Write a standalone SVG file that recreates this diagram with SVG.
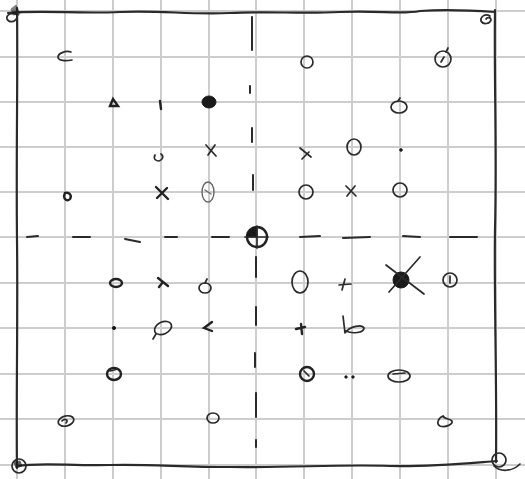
<svg xmlns="http://www.w3.org/2000/svg" width="525" height="479" viewBox="0 0 525 479">
<style>
.grid line{stroke:#cdcdcd;stroke-width:2}
.border{fill:none;stroke:#2a2a2a;stroke-width:2.2;stroke-linecap:round;stroke-linejoin:round}
.dash{stroke:#2a2a2a;stroke-width:2;stroke-linecap:round;fill:none}
.m{fill:none;stroke:#2a2a2a;stroke-width:1.7;stroke-linecap:round;stroke-linejoin:round}
.mt{fill:none;stroke:#222;stroke-width:2.4;stroke-linecap:round}
.lt{fill:none;stroke:#666;stroke-width:1.4;stroke-linecap:round}
.f{fill:#1a1a1a;stroke:#1a1a1a;stroke-width:1}
</style>
<rect width="525" height="479" fill="#ffffff"/>
<g id="grid" class="grid">
<line x1="17" y1="0" x2="17" y2="479"/>
<line x1="65" y1="0" x2="65" y2="479"/>
<line x1="113" y1="0" x2="113" y2="479"/>
<line x1="161" y1="0" x2="161" y2="479"/>
<line x1="209" y1="0" x2="209" y2="479"/>
<line x1="256" y1="0" x2="256" y2="479"/>
<line x1="304" y1="0" x2="304" y2="479"/>
<line x1="352" y1="0" x2="352" y2="479"/>
<line x1="400" y1="0" x2="400" y2="479"/>
<line x1="448" y1="0" x2="448" y2="479"/>
<line x1="496" y1="0" x2="496" y2="479"/>
<line x1="0" y1="11" x2="525" y2="11"/>
<line x1="0" y1="57" x2="525" y2="57"/>
<line x1="0" y1="102" x2="525" y2="102"/>
<line x1="0" y1="147" x2="525" y2="147"/>
<line x1="0" y1="192" x2="525" y2="192"/>
<line x1="0" y1="237" x2="525" y2="237"/>
<line x1="0" y1="283" x2="525" y2="283"/>
<line x1="0" y1="328" x2="525" y2="328"/>
<line x1="0" y1="374" x2="525" y2="374"/>
<line x1="0" y1="419" x2="525" y2="419"/>
<line x1="0" y1="465" x2="525" y2="465"/>
</g>
<g id="border" class="border">
<path d="M8,13 C40,10 80,14 120,12 C160,10 190,15 230,13 C270,11 300,14 340,12 C380,10 400,15 420,11 C450,9 480,11 495,12"/>
<path d="M17,8 C18,80 16,150 17,240 C18,320 16,400 17,468"/>
<path d="M17,466 C40,462 70,466 110,465 C150,464 180,467 230,467 C290,468 340,464 390,466 C430,467 470,463 497,461"/>
<path d="M495,10 C494,80 497,150 495,230 C494,300 497,380 496,462"/>
</g>
<g id="axes" class="dash">
<path d="M27,237 L38,236 M73,237 L90,237 M125,239 L140,242 M165,237 L177,237 M212,237 L229,237 M300,237 L320,236 M343,238 L370,237 M403,236 L420,237 M450,237 L477,237"/>
<path d="M252,17 L252,50 M250,86 L250,93 M252,128 L252,142 M253,175 L253,190 M256,257 L256,277 M256,307 L256,325 M255,353 L255,367 M256,393 L256,417 M256,440 L256,447"/>
</g>
<g id="center">
<circle cx="257" cy="237" r="10" class="mt" stroke-width="2"/>
<path d="M257,237 L247,237 A10,10 0 0 1 257,227 Z" class="f"/>
<line x1="245" y1="237" x2="268" y2="237" class="m"/>
<line x1="257" y1="226" x2="257" y2="248" class="m"/>
</g>
<g id="corner-tl"><path d="M18,15 C12,11 6,15 7,19 C9,23 15,22 16,19" class="m"/><path d="M11,9 L16,5 L20,14 L13,15 Z" class="f" opacity="0.55"/></g>
<g id="corner-tr"><path d="M490,16 C485,13 480,17 481,21 C483,25 490,24 491,20 C491,17 487,17 486,19" class="m"/></g>
<g id="corner-bl"><circle cx="19" cy="466" r="7" class="m"/><path d="M14,462 L20,461 L22,466 L16,468 Z" class="f" opacity="0.7"/></g>
<g id="corner-br"><circle cx="499" cy="460" r="7" class="m"/><path d="M494,466 C500,472 512,472 520,464" class="m"/></g>
<g id="n1"><path d="M71,52 C65,50 58,54 58,57 C58,61 66,61 72,60" class="m"/></g>
<g id="n2"><path d="M110,106 L113,99 L118,106 Z" class="mt"/></g>
<g id="n3"><line x1="160" y1="101" x2="161" y2="109" class="mt"/></g>
<g id="n4"><ellipse cx="209" cy="102" rx="7" ry="6" class="f"/></g>
<g id="n5"><path d="M155,155 C153,159 156,161 159,161 C163,160 164,156 161,154" class="m"/></g>
<g id="n6"><path d="M206,145 L216,156 M215,145 L208,155" class="m"/></g>
<g id="n7"><path d="M65,193 C70,192 72,196 70,199 C67,202 64,199 64,196 Z" class="mt" stroke-width="1.8"/></g>
<g id="n8"><path d="M156,187 L168,199 M167,188 L157,198" class="mt"/></g>
<g id="n9"><ellipse cx="208" cy="192" rx="6" ry="10" class="lt"/><path d="M205,190 L211,194" class="lt"/></g>
<g id="n10"><circle cx="307" cy="62" r="6" class="m"/></g>
<g id="n11"><ellipse cx="443" cy="59" rx="8" ry="8" class="m"/><path d="M446,52 L448,48 M441,62 L444,57" class="m"/></g>
<g id="n12"><ellipse cx="399" cy="107" rx="8" ry="6" class="m"/><path d="M398,101 L400,98" class="m"/></g>
<g id="n13"><path d="M300,148 L311,157 M309,152 L302,159" class="m"/></g>
<g id="n14"><ellipse cx="354" cy="147" rx="7" ry="8" class="m"/></g>
<g id="n15"><circle cx="401" cy="150" r="1.3" class="f"/></g>
<g id="n16"><ellipse cx="306" cy="192" rx="7" ry="7" class="m"/></g>
<g id="n17"><path d="M346,186 L356,196 M355,186 L347,196" class="m"/></g>
<g id="n18"><ellipse cx="400" cy="190" rx="7" ry="7" class="m"/></g>
<g id="n19"><ellipse cx="116" cy="283" rx="6" ry="4" class="mt"/></g>
<g id="n20"><path d="M158,278 L168,286 M163,282 L159,287" class="mt" stroke-width="2"/></g>
<g id="n21"><ellipse cx="205" cy="288" rx="6" ry="5" class="m"/><path d="M205,283 L207,279" class="m"/></g>
<g id="n22"><circle cx="114" cy="328" r="1.6" class="f"/></g>
<g id="n23"><ellipse cx="163" cy="328" rx="9" ry="6" transform="rotate(-25 163 328)" class="m"/><path d="M156,334 L153,339" class="m"/></g>
<g id="n24"><path d="M212,322 L204,328 L212,331" class="mt" stroke-width="2"/></g>
<g id="n25"><ellipse cx="114" cy="374" rx="7" ry="6" class="mt" stroke-width="2"/><path d="M110,371 L118,369" class="m"/></g>
<g id="n26"><ellipse cx="66" cy="421" rx="8" ry="5" transform="rotate(-15 66 421)" class="m"/><path d="M62,421 C65,418 69,420 66,423" class="m"/></g>
<g id="n27"><ellipse cx="213" cy="418" rx="6" ry="5" class="m"/></g>
<g id="n28"><ellipse cx="300" cy="282" rx="8" ry="11" class="m"/></g>
<g id="n29"><path d="M339,285 L351,284 M345,279 L342,290" class="m"/></g>
<g id="n30"><circle cx="401" cy="280" r="8" class="f"/><path d="M386,265 L424,294 M420,257 L389,292" class="m"/></g>
<g id="n31"><circle cx="450" cy="280" r="7" class="m"/><path d="M450,276 L450,283" class="m"/></g>
<g id="n32"><path d="M296,329 L305,327 M301,324 L302,334" class="mt" stroke-width="2"/></g>
<g id="n33"><path d="M343,316 L345,333 C350,326 362,324 364,328 C364,333 352,334 346,331" class="m"/></g>
<g id="n34"><ellipse cx="307" cy="374" rx="7" ry="7" class="mt" stroke-width="2"/><path d="M304,371 L309,376" class="m"/></g>
<g id="n35"><circle cx="346" cy="377" r="1.2" class="f"/><circle cx="353" cy="377" r="1.2" class="f"/></g>
<g id="n36"><ellipse cx="399" cy="376" rx="11" ry="6" class="m"/><path d="M393,374 L405,373" class="m"/></g>
<g id="n37"><path d="M443,416 C438,418 436,424 440,426 C446,428 453,424 452,421 C450,418 445,420 443,416" class="m"/></g>
</svg>
